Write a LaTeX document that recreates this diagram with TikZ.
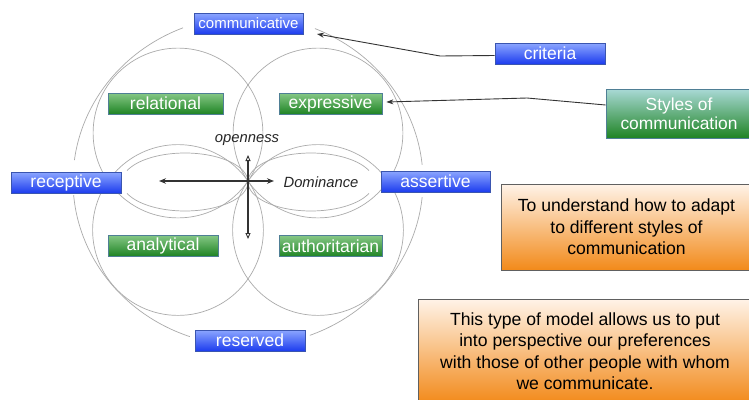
\documentclass[tikz,border=0pt]{standalone}
\usepackage{fontspec}
\setmainfont{Liberation Sans}
\usetikzlibrary{arrows.meta}
\definecolor{bluetop}{HTML}{8CA6FF}
\definecolor{bluebot}{HTML}{1C3CEE}
\definecolor{bluebd}{HTML}{3A55B0}
\definecolor{greentop}{HTML}{86C886}
\definecolor{greenbot}{HTML}{1F8424}
\definecolor{greenbd}{HTML}{4F7F95}
\definecolor{tealtop}{HTML}{A9D9D6}
\definecolor{orangetop}{HTML}{FFF3E8}
\definecolor{orangebot}{HTML}{F28A1A}
\definecolor{circgray}{HTML}{ABABAB}
\definecolor{linegray}{HTML}{333333}
\begin{document}
\begin{tikzpicture}[x=1pt,y=-1pt,
  labelbox/.style={draw=#1bd, line width=0.8pt, top color=#1top, bottom color=#1bot,
    text=white, inner sep=0pt, minimum height=21pt,
    font=\fontsize{17.5}{20}\selectfont},
  orangebox/.style={draw=gray!75!black, line width=0.9pt, top color=orangetop,
    bottom color=orangebot, align=center, inner sep=0pt,
    font=\fontsize{17.6}{21.5}\selectfont},
  circ/.style={draw=circgray, line width=0.7pt},
  conn/.style={draw=linegray, line width=0.9pt},
  axis/.style={draw=linegray, line width=1.1pt},
  axlabel/.style={font=\fontsize{14.8}{17}\selectfont\itshape, text=black!85, inner sep=0pt}]
\clip (0,0) rectangle (749,399);
\fill[white] (0,0) rectangle (749,399);

% outer ellipse with gaps at the blue boxes
\draw[circ] plot[domain=5.6:67.5, samples=50] ({248+175*cos(\x)},{181-165*sin(\x)});
\draw[circ] plot[domain=111.8:172.7, samples=50] ({248+175*cos(\x)},{181-165*sin(\x)});
\draw[circ] plot[domain=184.9:250.6, samples=50] ({248+175*cos(\x)},{181-165*sin(\x)});
\draw[circ] plot[domain=290.7:354.4, samples=50] ({248+175*cos(\x)},{181-165*sin(\x)});

% four circles, all through the centre of the cross
\draw[circ] (178,133) circle[radius=84.9];
\draw[circ] (318,133) circle[radius=84.9];
\draw[circ] (178,230) circle[radius=85.4];
\draw[circ] (318,230) circle[radius=85.4];

% two flat ellipses
\draw[circ] plot[domain=-157:157, samples=80] ({185+63*cos(\x)},{182-29*sin(\x)});
\draw[circ] plot[domain=23:337, samples=80] ({311+63*cos(\x)},{182-29*sin(\x)});

% boxes
\node[labelbox=blue, minimum width=109pt, font=\fontsize{15}{18}\selectfont] (communicative) at (248.5,23.5) {communicative};
\node[labelbox=green, minimum width=115pt] (relational) at (165.5,103.5) {relational};
\node[labelbox=green, minimum width=103pt] (expressive) at (330.5,103.5) {expressive};
\node[labelbox=blue, minimum width=110pt] (receptive) at (66,182.5) {receptive};
\node[labelbox=blue, minimum width=109pt] (assertive) at (435.5,181.5) {assertive};
\node[labelbox=green, minimum width=110pt] (analytical) at (163,245.5) {analytical};
\node[labelbox=green, minimum width=103pt] (authoritarian) at (330.5,246) {authoritarian};
\node[labelbox=blue, minimum width=110pt] (reserved) at (250,340.5) {reserved};
\node[labelbox=blue, minimum width=110pt] (criteria) at (550,53.5) {criteria};
\node[draw=greenbd, line width=0.8pt, top color=tealtop, bottom color=greenbot,
  text=white, inner sep=0pt, minimum width=146pt, minimum height=49pt, align=center,
  font=\fontsize{17.4}{20}\selectfont] (styles) at (679,113.5) {Styles of\\[-1pt]communication};

\node[orangebox, minimum width=251pt, minimum height=86pt] (goal) at (626.5,227)
  {To understand how to adapt\\to different styles of\\communication};
\node[orangebox, minimum width=334pt, minimum height=104pt] (model) at (585,351)
  {This type of model allows us to put\\into perspective our preferences\\with those of other people with whom\\we communicate.};

% connectors
\coordinate (cbend) at (440,56);
\coordinate (ctip) at (317,34);
\draw[conn, -{Stealth[length=7pt,width=5pt]}] ([yshift=-2pt]criteria.west) -- (cbend) -- (ctip);
\coordinate (sbend) at (527,98);
\draw[conn, -{Stealth[length=7pt,width=5pt]}] ([yshift=8.5pt]styles.west) -- (sbend) -- ([xshift=4pt,yshift=1.5pt]expressive.east);

% axes
\coordinate (O) at (248,181);
\coordinate (axL) at (159,181);
\coordinate (axR) at (274,181);
\coordinate (axU) at (248,155);
\coordinate (axD) at (248,239);
\draw[axis, {Stealth[length=7pt,width=5.5pt]}-{Stealth[length=7pt,width=5.5pt]}] (axL) -- (axR);
\draw[axis, {Triangle[open,length=6pt,width=5pt,line width=0.9pt]}-{Triangle[open,length=6pt,width=5pt,line width=0.9pt]}] (axU) -- (axD);

\node[axlabel] (openness) at (247,140) {openness};
\node[axlabel] (dominance) at (321,182) {Dominance};
\end{tikzpicture}
\end{document}
